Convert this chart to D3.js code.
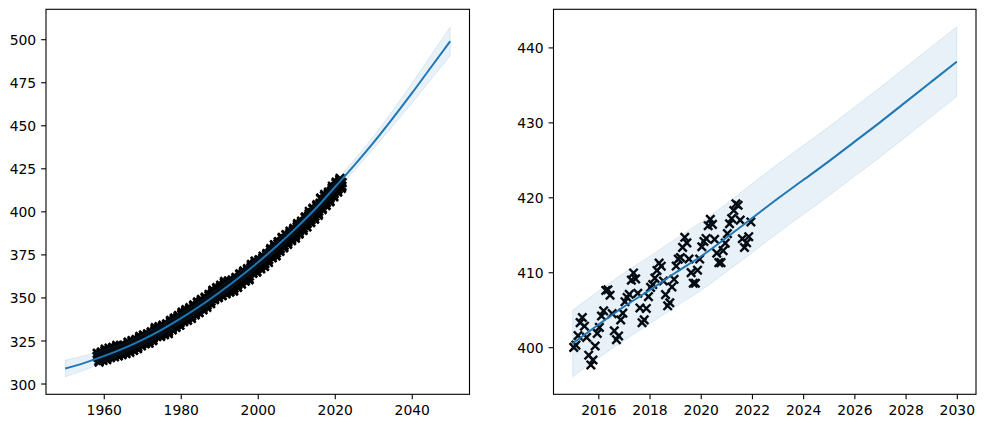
<!DOCTYPE html>
<html>
<head>
<meta charset="utf-8">
<script src="https://cdn.jsdelivr.net/npm/d3@7"></script>
<style>
  html, body { margin: 0; padding: 0; background: #fff; }
  svg { display: block; font-family: "DejaVu Sans", sans-serif; }
</style>
</head>
<body>
<div id="chart"></div>
<script>
// Monthly CO2 (ppm), first value is March 1958, last is December 2021
const co2_1950s = [
  315.70, 317.45, 317.51, 317.24, 315.86, 314.93, 313.20, 312.43, 313.33, 314.67,
  315.58, 316.48, 316.65, 317.72, 318.29, 318.15, 316.54, 314.80, 313.84, 313.33, 314.81, 315.58
];
const co2_1960s = [
  316.43, 316.98, 317.58, 319.03, 320.04, 319.59, 318.18, 315.90, 314.17, 313.83, 315.00, 316.19,
  316.89, 317.70, 318.54, 319.48, 320.58, 319.77, 318.57, 316.79, 314.99, 315.31, 316.10, 317.01,
  317.94, 318.55, 319.68, 320.57, 321.02, 320.62, 319.61, 317.40, 316.25, 315.42, 316.69, 317.70,
  318.74, 319.07, 319.86, 321.38, 322.25, 321.48, 319.74, 317.77, 316.21, 315.99, 317.07, 318.35,
  319.57, 320.01, 320.74, 321.84, 322.26, 321.89, 320.44, 318.69, 316.70, 316.87, 317.68, 318.71,
  319.44, 320.44, 320.89, 322.14, 322.17, 321.87, 321.21, 318.87, 317.81, 317.30, 318.87, 319.42,
  320.62, 321.59, 322.39, 323.87, 324.01, 323.75, 322.39, 320.37, 318.64, 318.10, 319.79, 321.08,
  322.07, 322.50, 323.04, 324.42, 325.00, 324.09, 322.54, 320.92, 319.25, 319.39, 320.73, 321.96,
  322.57, 323.15, 323.89, 325.02, 325.57, 325.36, 324.14, 322.11, 320.33, 320.25, 321.32, 322.89,
  324.00, 324.42, 325.63, 326.66, 327.38, 326.71, 325.88, 323.66, 322.38, 321.78, 322.85, 324.12
];
const co2_1970s = [
  325.06, 325.98, 326.93, 328.13, 328.08, 327.67, 326.34, 324.69, 323.10, 323.06, 324.01, 325.13,
  326.17, 326.68, 327.17, 327.79, 328.93, 328.57, 327.36, 325.43, 323.36, 323.56, 324.80, 326.01,
  326.77, 327.63, 327.75, 329.72, 330.07, 329.09, 328.04, 326.32, 324.84, 325.20, 326.50, 327.55,
  328.55, 329.56, 330.30, 331.50, 332.48, 332.07, 330.87, 329.31, 327.51, 327.18, 328.16, 328.64,
  329.35, 330.71, 331.48, 332.65, 333.09, 332.25, 331.18, 329.40, 327.43, 327.37, 328.46, 329.57,
  330.40, 331.40, 332.04, 333.31, 333.96, 333.59, 331.91, 330.06, 328.56, 328.34, 329.49, 330.76,
  331.75, 332.56, 333.50, 334.58, 334.57, 334.34, 333.06, 330.95, 329.30, 328.94, 330.31, 331.68,
  332.93, 333.42, 334.70, 336.07, 336.75, 336.27, 334.92, 332.75, 331.59, 331.16, 332.40, 333.85,
  334.97, 335.38, 336.64, 337.76, 338.01, 337.89, 336.54, 334.68, 332.76, 332.55, 333.92, 334.95,
  336.23, 336.76, 337.96, 338.88, 339.47, 339.29, 337.73, 336.09, 333.92, 333.86, 335.29, 336.73
];
const co2_1980s = [
  338.01, 338.36, 340.07, 340.77, 341.47, 341.17, 339.56, 337.60, 335.88, 336.02, 337.10, 338.21,
  339.24, 340.48, 341.38, 342.51, 342.91, 342.25, 340.49, 338.43, 336.69, 336.86, 338.36, 339.61,
  340.75, 341.61, 342.70, 343.56, 344.13, 343.35, 342.06, 339.82, 337.97, 337.86, 339.26, 340.49,
  341.38, 342.52, 343.10, 344.94, 345.75, 345.32, 343.99, 342.39, 339.86, 339.99, 341.16, 342.99,
  343.70, 344.51, 345.28, 347.06, 347.43, 346.80, 345.39, 343.28, 341.07, 341.35, 342.98, 344.22,
  344.97, 345.99, 347.42, 348.35, 348.93, 348.25, 346.56, 344.67, 343.09, 342.80, 344.24, 345.56,
  346.30, 346.95, 347.85, 349.55, 350.21, 349.55, 347.94, 345.90, 344.85, 344.17, 345.66, 346.90,
  348.02, 348.47, 349.42, 350.99, 351.84, 351.25, 349.52, 348.10, 346.44, 346.36, 347.81, 348.96,
  350.43, 351.72, 352.22, 353.59, 354.22, 353.79, 352.39, 350.44, 348.72, 348.88, 350.07, 351.34,
  352.76, 353.07, 353.68, 355.42, 355.67, 355.12, 353.90, 351.67, 349.80, 349.99, 351.30, 352.52
];
const co2_1990s = [
  353.66, 354.70, 355.39, 356.20, 357.16, 356.22, 354.82, 352.91, 350.96, 351.18, 352.83, 354.21,
  354.72, 355.75, 357.16, 358.60, 359.34, 358.24, 356.17, 354.02, 352.15, 352.21, 353.75, 354.99,
  355.99, 356.72, 357.81, 359.15, 359.66, 359.25, 357.02, 355.00, 353.01, 353.31, 354.16, 355.40,
  356.70, 357.17, 358.38, 359.46, 360.28, 359.60, 357.57, 355.52, 353.69, 353.99, 355.34, 356.80,
  358.37, 358.91, 359.97, 361.26, 361.69, 360.94, 359.55, 357.49, 355.84, 355.99, 357.58, 359.04,
  359.96, 361.00, 361.64, 363.45, 363.79, 363.26, 361.90, 359.46, 358.06, 357.75, 359.56, 360.70,
  362.05, 363.25, 364.03, 364.72, 365.41, 364.97, 363.65, 361.49, 359.46, 359.60, 360.76, 362.33,
  363.18, 364.00, 364.57, 366.35, 366.79, 365.62, 364.47, 362.51, 360.19, 360.77, 362.43, 364.28,
  365.32, 366.15, 367.31, 368.61, 369.30, 368.87, 367.64, 365.77, 363.90, 364.23, 365.46, 366.97,
  368.15, 368.87, 369.59, 371.14, 371.00, 370.35, 369.27, 366.93, 364.63, 365.13, 366.67, 368.01
];
const co2_2000s = [
  369.14, 369.46, 370.52, 371.66, 371.82, 371.70, 370.12, 368.12, 366.62, 366.73, 368.29, 369.53,
  370.28, 371.50, 372.12, 372.87, 374.02, 373.30, 371.62, 369.55, 367.96, 368.09, 369.68, 371.24,
  372.44, 373.08, 373.52, 374.85, 375.55, 375.40, 374.02, 371.48, 370.70, 370.25, 372.08, 373.78,
  374.68, 375.62, 376.11, 377.65, 378.35, 378.13, 376.61, 374.48, 373.04, 373.01, 374.47, 375.90,
  376.79, 377.37, 378.41, 380.52, 380.63, 379.57, 377.79, 375.86, 374.06, 374.24, 375.86, 377.48,
  378.47, 379.76, 381.14, 382.20, 382.47, 382.20, 380.78, 378.73, 376.66, 376.98, 378.29, 380.07,
  381.36, 382.19, 382.65, 384.65, 384.94, 384.01, 382.15, 380.33, 378.81, 379.06, 380.17, 381.85,
  382.88, 383.77, 384.42, 386.36, 386.53, 386.01, 384.45, 381.96, 380.81, 381.09, 382.37, 383.84,
  385.42, 385.72, 385.96, 387.18, 388.50, 387.88, 386.38, 384.15, 383.07, 382.98, 384.11, 385.54,
  386.92, 387.41, 388.77, 389.46, 390.18, 389.43, 387.74, 385.91, 384.77, 384.38, 385.99, 387.26
];
const co2_2010s = [
  388.45, 389.82, 391.08, 392.46, 392.96, 392.03, 390.13, 388.15, 386.80, 387.18, 388.59, 389.68,
  391.19, 391.96, 392.49, 393.41, 394.33, 393.69, 392.59, 390.21, 389.00, 388.93, 390.24, 391.80,
  393.07, 393.35, 394.36, 396.43, 396.87, 395.88, 394.52, 392.54, 391.13, 391.01, 392.95, 394.34,
  395.61, 396.85, 397.26, 398.35, 399.98, 398.87, 397.37, 395.41, 393.39, 393.70, 395.19, 396.82,
  397.93, 398.10, 399.47, 401.33, 401.88, 401.31, 399.07, 397.21, 395.40, 395.65, 397.23, 398.79,
  399.98, 400.28, 401.54, 403.28, 403.96, 402.80, 401.31, 398.93, 397.63, 398.29, 400.16, 401.85,
  402.65, 404.16, 404.85, 407.57, 407.66, 406.94, 404.48, 402.19, 401.01, 401.50, 403.64, 404.55,
  406.07, 406.64, 407.06, 408.95, 409.91, 409.12, 407.20, 405.24, 403.27, 403.64, 405.17, 406.75,
  407.98, 408.36, 409.21, 410.24, 411.23, 410.81, 408.83, 407.02, 405.52, 405.93, 408.04, 409.06,
  410.83, 411.75, 411.97, 413.32, 414.66, 413.92, 411.77, 409.95, 408.54, 408.53, 410.27, 411.76
];
const co2_2020s = [
  413.40, 414.11, 414.51, 416.21, 417.07, 416.39, 414.38, 412.55, 411.29, 411.28, 412.89, 413.89,
  415.15, 416.47, 417.16, 418.24, 419.13, 418.94, 416.96, 414.47, 413.30, 413.93, 414.74, 416.71
];

// Fitted curve and half-width of its band, left panel (1950-2050)
const fitYearsLong = [1950, 1955, 1960, 1965, 1970, 1975, 1980, 1985, 1990, 1995, 2000,
                      2005, 2010, 2015, 2020, 2025, 2030, 2035, 2040, 2045, 2050];
const fitMeanLong = [308.7, 312.0, 315.9, 320.3, 325.4, 331.2, 337.8, 345.0, 352.9, 361.3, 370.3,
                     380.0, 390.4, 401.5, 414.0, 426.6, 439.8, 453.9, 468.5, 483.7, 498.8];
const fitHalfLong = [4.8, 4.2, 3.5, 3.0, 3.0, 3.0, 3.0, 3.0, 3.0, 3.0, 3.0,
                     3.0, 3.0, 3.0, 3.0, 3.1, 3.6, 4.5, 5.7, 7.0, 8.4];

// Fitted curve and band, right panel (2015-2030)
const fitYearsShort = [2015, 2016, 2017, 2018, 2019, 2020, 2021, 2022, 2023, 2024, 2025,
                       2026, 2027, 2028, 2029, 2030];
const fitMeanShort = [400.5, 403.0, 405.4, 407.6, 409.9, 412.1, 414.6, 417.2, 419.8, 422.3, 424.8,
                      427.4, 430.0, 432.7, 435.4, 438.1];
const fitHalfShort = [4.45, 4.45, 4.5, 4.5, 4.5, 4.55, 4.55, 4.6, 4.6, 4.6, 4.6,
                      4.6, 4.65, 4.65, 4.65, 4.65];

const xTicksLong = [1960, 1980, 2000, 2020, 2040];
const yTicksLong = [300, 325, 350, 375, 400, 425, 450, 475, 500];
const xTicksShort = [2016, 2018, 2020, 2022, 2024, 2026, 2028, 2030];
const yTicksShort = [400, 410, 420, 430, 440];

// month series -> {t, v}
const allCo2 = [].concat(co2_1950s, co2_1960s, co2_1970s, co2_1980s, co2_1990s,
                         co2_2000s, co2_2010s, co2_2020s);
const obs = allCo2.map((v, i) => ({ t: 1958 + (2 + i + 0.5) / 12, v: v }));
const obsRecent = obs.filter(d => d.t >= 2015);

const toFit = (years, mean, half) => years.map((t, i) => ({ t: t, v: mean[i], lo: mean[i] - half[i], hi: mean[i] + half[i] }));
const fitLong = toFit(fitYearsLong, fitMeanLong, fitHalfLong);
const fitShort = toFit(fitYearsShort, fitMeanShort, fitHalfShort);

const W = 985, H = 428;
const svg = d3.select('#chart').append('svg')
  .attr('width', W)
  .attr('height', H)
  .attr('viewBox', `0 0 ${W} ${H}`);

const BLUE = '#1f77b4';
const fontSize = 13.9;
const tick = 4.9;

// matplotlib style autoscale: data extent plus 5% each side
function padded(ext) {
  const m = (ext[1] - ext[0]) * 0.05;
  return [ext[0] - m, ext[1] + m];
}

function drawPanel(box, points, fit, xTicks, yTicks) {
  const g = svg.append('g').attr('transform', `translate(${box.left},${box.top})`);
  const w = box.right - box.left;
  const h = box.bottom - box.top;

  const xExt = d3.extent(fit.map(d => d.t).concat(points.map(d => d.t)));
  const yExt = [d3.min([d3.min(fit, d => d.lo), d3.min(points, d => d.v)]),
                d3.max([d3.max(fit, d => d.hi), d3.max(points, d => d.v)])];

  const x = d3.scaleLinear().domain(padded(xExt)).range([0, w]);
  const y = d3.scaleLinear().domain(padded(yExt)).range([h, 0]);

  // --- observations as x markers ---
  const r = 4.2;
  g.append('g')
    .selectAll('path')
    .data(points)
    .join('path')
      .attr('transform', d => `translate(${x(d.t)},${y(d.v)})`)
      .attr('d', `M${-r},${-r}L${r},${r}M${-r},${r}L${r},${-r}`)
      .attr('stroke', '#000')
      .attr('stroke-width', 2.4)
      .attr('fill', 'none');

  // --- band ---
  g.append('path')
    .datum(fit)
    .attr('fill', BLUE)
    .attr('fill-opacity', 0.1)
    .attr('stroke', BLUE)
    .attr('stroke-opacity', 0.12)
    .attr('stroke-width', 1)
    .attr('d', d3.area()
      .x(d => x(d.t))
      .y0(d => y(d.lo))
      .y1(d => y(d.hi))
      .curve(d3.curveMonotoneX));

  // --- mean line ---
  g.append('path')
    .datum(fit)
    .attr('fill', 'none')
    .attr('stroke', BLUE)
    .attr('stroke-width', 2)
    .attr('d', d3.line()
      .x(d => x(d.t))
      .y(d => y(d.v))
      .curve(d3.curveMonotoneX));

  // --- axes ---
  const xa = g.append('g')
    .attr('transform', `translate(0,${h})`)
    .call(d3.axisBottom(x).tickValues(xTicks).tickFormat(d3.format('d')).tickSize(tick).tickPadding(tick + 1.5));
  const ya = g.append('g')
    .call(d3.axisLeft(y).tickValues(yTicks).tickFormat(d3.format('d')).tickSize(tick).tickPadding(tick));

  [xa, ya].forEach(a => {
    a.select('.domain').remove();
    a.selectAll('line').attr('stroke', '#000').attr('stroke-width', 1.1);
    a.selectAll('text')
      .attr('fill', '#000')
      .style('font-size', fontSize + 'px')
      .style('font-family', '"DejaVu Sans", sans-serif');
  });
  ya.selectAll('text').attr('dy', '0.4em');

  // frame
  g.append('rect')
    .attr('width', w)
    .attr('height', h)
    .attr('fill', 'none')
    .attr('stroke', '#000')
    .attr('stroke-width', 1.1);
}

drawPanel({ left: 46, right: 469.5, top: 9.3, bottom: 394.3 }, obs, fitLong, xTicksLong, yTicksLong);
drawPanel({ left: 553.5, right: 976, top: 9.3, bottom: 394.3 }, obsRecent, fitShort, xTicksShort, yTicksShort);
</script>
</body>
</html>
